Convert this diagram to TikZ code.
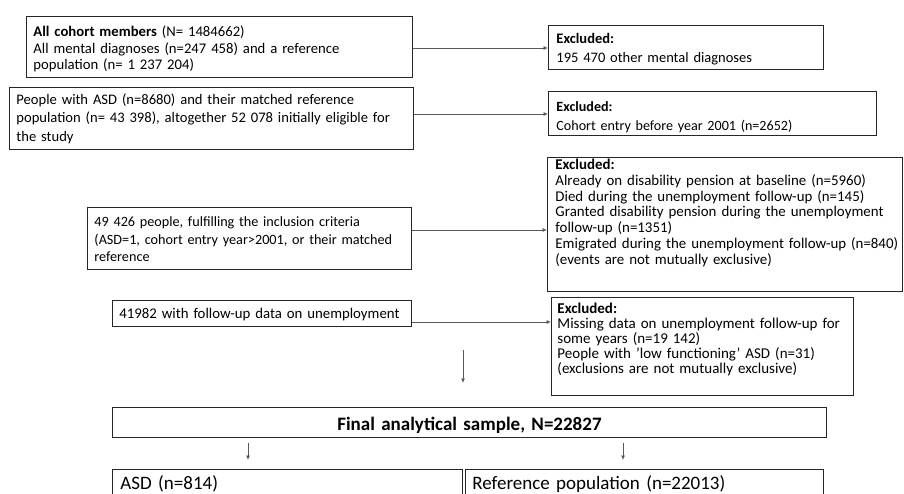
\documentclass[tikz,border=0pt]{standalone}
\usepackage{fontspec}
\setmainfont{Carlito}
\usetikzlibrary{arrows.meta}
\tikzset{
  box/.style={draw=black!85, line width=0.9pt, inner xsep=7pt, inner ysep=0pt,
    align=left, anchor=north west},
  arr/.style={draw=black!65, line width=0.8pt, -{Latex[length=4.5pt,width=4pt]}},
}
\newcommand{\fs}[2]{\fontsize{#1}{#2}\selectfont}
\begin{document}
\begin{tikzpicture}[x=1pt,y=-1pt]
\useasboundingbox (0,0) rectangle (904,494);
\clip (0,0) rectangle (904,494);
\fill[white] (0,0) rectangle (904,494);

\node[box, minimum width=383pt, text width=372pt, text height=20pt, text depth=41pt, font=\fs{14.7}{16.7}] (b1) at (26,16)
  {\textbf{All cohort members} (N= 1484662)\\All mental diagnoses (n=247 458) and a reference\\population (n= 1 237 204)};
\node[box, minimum width=401pt, text width=390pt, text height=17pt, text depth=45pt, font=\fs{14.6}{18.3}] (b2) at (9,87)
  {People with ASD (n=8680) and their matched reference\\population (n= 43 398), altogether 52 078 initially eligible for\\the study};
\node[box, minimum width=322pt, text width=310pt, text height=19pt, text depth=43pt, font=\fs{14.2}{17.7}] (b3) at (87,207)
  {49 426 people, fulfilling the inclusion criteria\\(ASD=1, cohort entry year>2001, or their matched\\reference};
\node[box, minimum width=297pt, text width=285pt, text height=18pt, text depth=8pt, font=\fs{14.8}{17}] (b4) at (112,300)
  {41982 with follow-up data on unemployment};

\node[box, minimum width=275pt, text width=259pt, inner xsep=8pt, text height=18pt, text depth=26pt, font=\fs{14.5}{19}] (e1) at (548,25)
  {\textbf{Excluded:}\\195 470 other mental diagnoses};
\node[box, minimum width=328pt, text width=312pt, inner xsep=8pt, text height=20pt, text depth=24pt, font=\fs{14.1}{19}] (e2) at (548,91)
  {\textbf{Excluded:}\\Cohort entry before year 2001 (n=2652)};
\node[box, minimum width=355pt, text width=339pt, inner xsep=8pt, text height=12pt, text depth=122pt, font=\fs{14.9}{15.8}] (e3) at (547,157)
  {\textbf{Excluded:}\\\mbox{Already on disability pension at baseline (n=5960)}\\\mbox{Died during the unemployment follow-up (n=145)}\\\mbox{Granted disability pension during the unemployment}\\follow-up (n=1351)\\\mbox{Emigrated during the unemployment follow-up (n=840)}\\(events are not mutually exclusive)};
\node[box, minimum width=302pt, text width=290pt, inner xsep=6pt, text height=16pt, text depth=82pt, font=\fs{15}{15}] (e4) at (551,297)
  {\textbf{Excluded:}\\\mbox{Missing data on unemployment follow-up for}\\some years (n=19 142)\\\mbox{People with ’low functioning’ ASD (n=31)}\\\mbox{(exclusions are not mutually exclusive)}};

\node[box, minimum width=714pt, text width=700pt, align=center, text height=23pt, text depth=7pt, font=\fontsize{19}{22}\selectfont\bfseries] (fin) at (112,407)
  {Final analytical sample, N=22827};
\node[box, minimum width=350pt, text width=334pt, inner xsep=8pt, text height=20.5pt, text depth=9.5pt, font=\fontsize{19}{22}\selectfont] (asd) at (112,469)
  {ASD (n=814)};
\node[box, minimum width=358pt, text width=344pt, text height=20.5pt, text depth=9.5pt, font=\fontsize{19}{22}\selectfont] (ref) at (465,469)
  {Reference population (n=22013)};

\coordinate (y1) at (0,48);
\coordinate (y2) at (0,114);
\coordinate (y3) at (0,230);
\coordinate (y4) at (0,322);
\draw[arr] (b1.east |- y1) -- (e1.west |- y1);
\draw[arr] (b2.east |- y2) -- (e2.west |- y2);
\draw[arr] (b3.east |- y3) -- (e3.west |- y3);
\draw[arr] (b4.east |- y4) -- (e4.west |- y4);

\coordinate (m1) at (463,350);
\coordinate (m2) at (463,383);
\draw[arr] (m1) -- (m2);
\coordinate (l1) at (248,443);
\coordinate (l2) at (248,460);
\coordinate (r1) at (623,443);
\coordinate (r2) at (623,460);
\draw[arr] (l1) -- (l2);
\draw[arr] (r1) -- (r2);
\end{tikzpicture}
\end{document}
